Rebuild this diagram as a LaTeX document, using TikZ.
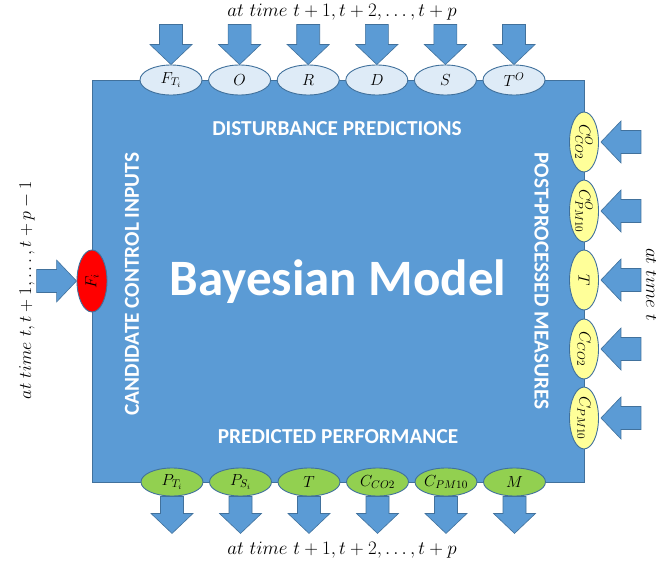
\RequirePackage{fix-cm}
\documentclass[tikz,border=0pt]{standalone}
\usepackage{fontspec}
\setsansfont{Carlito}
\usetikzlibrary{shapes.geometric,calc}
\definecolor{bmain}{HTML}{5B9BD5}
\definecolor{bedge}{HTML}{41719C}
\definecolor{lightfill}{HTML}{DEEBF7}
\definecolor{yfill}{HTML}{FFFF99}
\definecolor{gfill}{HTML}{92D050}
\definecolor{rfill}{HTML}{FF0000}
\tikzset{
  barrow/.style={fill=bmain, draw=bedge, line width=0.6pt, line join=miter},
  ell/.style={ellipse, draw=bedge, line width=0.9pt, inner sep=0pt, font=\fontsize{16}{18}\selectfont},
  hell/.style={ell, minimum width=62, minimum height=30},
  vell/.style={ell, minimum width=29, minimum height=60},
  lab/.style={text=white, inner sep=0pt, font=\sffamily\bfseries\fontsize{21.3}{25}\selectfont},
  timetext/.style={inner sep=0pt, font=\fontsize{19}{22}\selectfont}
}
\newcommand\blockarr[3]{%
  \begin{scope}[shift={(#1)}, rotate=#2]
    \draw[barrow] (0,0) -- (-20,21) -- (-20,11.5) -- (-#3,11.5) -- (-#3,-11.5) -- (-20,-11.5) -- (-20,-21) -- cycle;
  \end{scope}}
\begin{document}
\begin{tikzpicture}[x=1pt, y=-1pt]
\useasboundingbox (0,0) rectangle (656,567);
% main block
\node[draw=bedge, fill=bmain, line width=0.6pt, minimum width=492, minimum height=402, inner sep=0pt, anchor=north west] (block) at (92,80) {};
% labels inside
\node[text=white, inner sep=0pt, font=\sffamily\bfseries\fontsize{51}{60}\selectfont] (title) at (338,282) {Bayesian Model};
\node[lab] (dist) at (337,129) {DISTURBANCE PREDICTIONS};
\node[lab] (perf) at (338,437) {PREDICTED PERFORMANCE};
\node[lab, rotate=90] (cand) at (132,284) {CANDIDATE CONTROL INPUTS};
\node[lab, rotate=-90] (post) at (541.5,281) {POST-PROCESSED MEASURES};
% top ellipses
\node[hell, fill=lightfill] (d1) at (171,80) {$F_{T_i}$};
\node[hell, fill=lightfill] (d2) at (239.6,80) {$O$};
\node[hell, fill=lightfill] (d3) at (308.2,80) {$R$};
\node[hell, fill=lightfill] (d4) at (376.8,80) {$D$};
\node[hell, fill=lightfill] (d5) at (445.4,80) {$S$};
\node[hell, fill=lightfill] (d6) at (514,80) {$T^O$};
% bottom ellipses
\node[hell, fill=gfill, minimum height=28] (p1) at (172,482) {$P_{T_i}$};
\node[hell, fill=gfill, minimum height=28] (p2) at (240.5,482) {$P_{S_i}$};
\node[hell, fill=gfill, minimum height=28] (p3) at (309,482) {$T$};
\node[hell, fill=gfill, minimum height=28] (p4) at (377.5,482) {$C_{CO2}$};
\node[hell, fill=gfill, minimum height=28] (p5) at (446,482) {$C_{PM10}$};
\node[hell, fill=gfill, minimum height=28] (p6) at (514.5,482) {$M$};
% right ellipses
\node[vell, fill=yfill] (m1) at (584,142) {\rotatebox{-90}{$C^O_{CO2}$}};
\node[vell, fill=yfill] (m2) at (584,211) {\rotatebox{-90}{$C^O_{PM10}$}};
\node[vell, fill=yfill] (m3) at (584,280) {\rotatebox{-90}{$T$}};
\node[vell, fill=yfill] (m4) at (584,349) {\rotatebox{-90}{$C_{CO2}$}};
\node[vell, fill=yfill] (m5) at (584,418) {\rotatebox{-90}{$C_{PM10}$}};
% left ellipse
\node[vell, fill=rfill, minimum width=30, minimum height=62] (f) at (92,281) {\rotatebox{90}{$F_i$}};
% block arrows
\foreach \n in {d1,d2,d3,d4,d5,d6}{\blockarr{\n.north}{-90}{40}}
\foreach \n in {p1,p2,p3,p4,p5,p6}{\blockarr{$(\n.south)+(0,37)$}{-90}{37}}
\foreach \n in {m1,m2,m3,m4,m5}{\blockarr{$(\n.east)+(2,0)$}{180}{40}}
\blockarr{f.west}{0}{40}
% time texts
\node[timetext] (ttop) at (342,12) {$at\ time\ t+1, t+2, \ldots, t+p$};
\node[timetext] (tbot) at (342,550) {$at\ time\ t+1, t+2, \ldots, t+p$};
\node[timetext, font=\fontsize{18}{21}\selectfont, rotate=90] (tleft) at (27,290) {$at\ time\ t, t+1, \ldots, t+p-1$};
\node[timetext, rotate=-90, anchor=base west] (tright) at (646,248) {$at\ time\ t$};
\end{tikzpicture}
\end{document}
